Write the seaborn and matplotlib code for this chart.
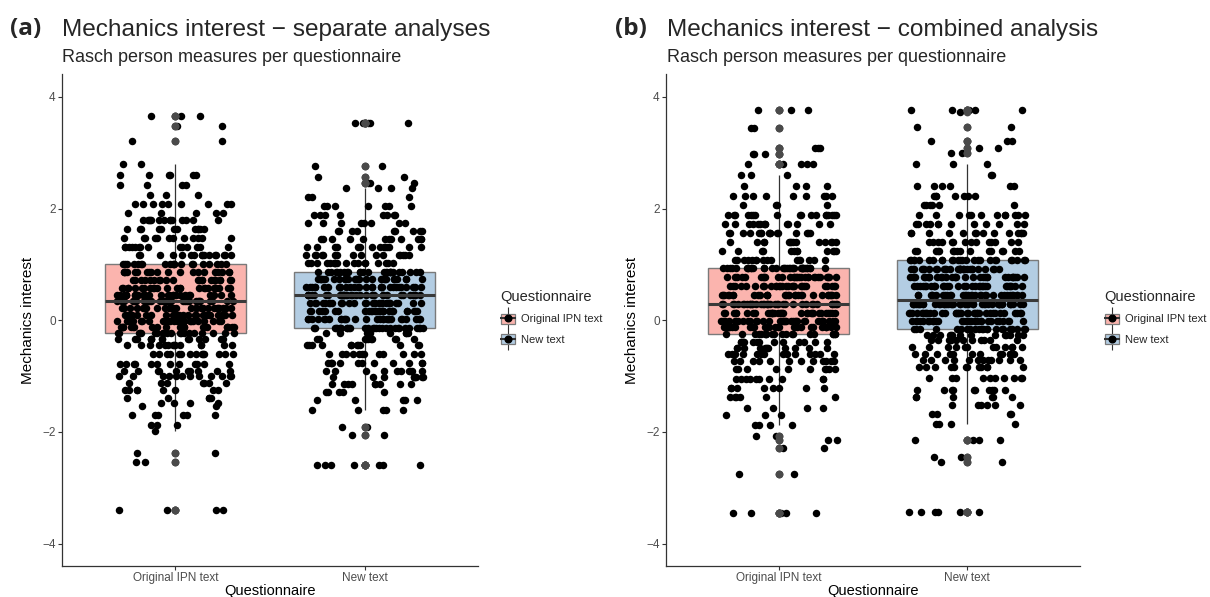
import numpy as np
import pandas as pd
import matplotlib
matplotlib.use("Agg")
import matplotlib.pyplot as plt
import seaborn as sns
from matplotlib.patches import Patch
from matplotlib.lines import Line2D

categories = ["Original IPN text", "New text"]
colors = ["#FBB4AE", "#B3CDE3"]

# ---- Panel (a): separate analyses (Rasch measure levels and number of persons) ----
a_orig_levels = [3.66, 3.48, 3.21, 2.80, 2.60, 2.42, 2.25, 2.08, 1.92, 1.80, 1.63, 1.47, 1.31, 1.16, 1.00,
                 0.86, 0.72, 0.58, 0.45, 0.34, 0.22, 0.10, -0.02, -0.12, -0.23,
                 -0.34, -0.45, -0.60, -0.78, -0.90, -1.00, -1.13, -1.24, -1.39, -1.48, -1.54, -1.70,
                 -1.88, -1.99, -2.37, -2.54, -3.39]
a_orig_counts = [3, 2, 2, 2, 6, 4, 3, 9, 5, 14, 12, 12, 14, 16, 20,
                 20, 22, 26, 28, 30, 26, 26, 26, 24, 20,
                 14, 14, 14, 12, 10, 12, 7, 8, 5, 4, 2, 6,
                 3, 1, 2, 2, 4]

a_new_levels = [3.54, 2.76, 2.56, 2.45, 2.36, 2.20, 2.04, 1.89, 1.74, 1.59, 1.45, 1.31, 1.16, 1.02,
                0.87, 0.73, 0.59, 0.45, 0.31, 0.17, 0.03, -0.13,
                -0.23, -0.33, -0.45, -0.60, -0.76, -0.90, -1.02, -1.14, -1.28, -1.42, -1.60,
                -1.91, -2.06, -2.60]
a_new_counts = [5, 2, 2, 3, 4, 3, 7, 8, 8, 9, 12, 14, 16, 18,
                26, 28, 30, 32, 28, 28, 28, 30,
                8, 10, 12, 12, 12, 10, 9, 9, 5, 5, 5,
                2, 2, 7]

# ---- Panel (b): combined analysis ----
b_orig_levels = [3.76, 3.45, 3.08, 2.98, 2.80, 2.60, 2.41, 2.23, 2.06, 1.89, 1.73, 1.56, 1.40, 1.24, 1.08,
                 0.93, 0.77, 0.61, 0.45, 0.29, 0.13, -0.02, -0.12, -0.24,
                 -0.39, -0.50, -0.60, -0.73, -0.87, -1.06, -1.22, -1.37, -1.58, -1.69, -1.87,
                 -2.07, -2.15, -2.29, -2.75, -3.45]
b_orig_counts = [3, 2, 3, 3, 5, 3, 4, 9, 4, 18, 14, 16, 14, 12, 16,
                 35, 29, 28, 30, 36, 32, 32, 28, 20,
                 14, 12, 14, 12, 10, 10, 8, 6, 4, 3, 4,
                 2, 2, 2, 2, 5]

b_new_levels = [3.76, 3.72, 3.46, 3.21, 3.08, 3.00, 2.80, 2.60, 2.41, 2.23, 2.06, 1.89, 1.73, 1.56, 1.40, 1.24,
                1.08, 0.92, 0.77, 0.61, 0.45, 0.29, 0.13, -0.02, -0.16,
                -0.27, -0.36, -0.48, -0.60, -0.72, -0.84, -1.04, -1.24, -1.37, -1.52, -1.67, -1.86,
                -2.14, -2.45, -2.54, -3.44]
b_new_counts = [5, 1, 2, 3, 2, 2, 3, 2, 6, 7, 6, 12, 12, 14, 14, 16,
                26, 31, 32, 32, 32, 44, 36, 30, 22,
                14, 12, 12, 12, 12, 12, 10, 10, 6, 6, 4, 4,
                4, 2, 2, 6]

titles = ["Mechanics interest \u2212 separate analyses", "Mechanics interest \u2212 combined analysis"]
subtitle = "Rasch person measures per questionnaire"
panel_tags = ["(a)", "(b)"]


def make_df(orig_levels, orig_counts, new_levels, new_counts):
    v1 = np.repeat(orig_levels, orig_counts)
    v2 = np.repeat(new_levels, new_counts)
    return pd.DataFrame({
        "Questionnaire": [categories[0]] * len(v1) + [categories[1]] * len(v2),
        "value": np.concatenate([v1, v2]),
    })


df_a = make_df(a_orig_levels, a_orig_counts, a_new_levels, a_new_counts)
df_b = make_df(b_orig_levels, b_orig_counts, b_new_levels, b_new_counts)

sns.set_theme(style="white")
plt.rcParams['font.family'] = ['Liberation Sans', 'DejaVu Sans']

W, H = 1210, 597
fig = plt.figure(figsize=(W / 100, H / 100), dpi=100)

ax_top_px, ax_bot_px = 74.5, 566
ax_a = fig.add_axes([62 / W, 1 - ax_bot_px / H, (478 - 62) / W, (ax_bot_px - ax_top_px) / H])
ax_b = fig.add_axes([666 / W, 1 - ax_bot_px / H, (1080 - 666) / W, (ax_bot_px - ax_top_px) / H])

np.random.seed(3)
for ax, df in [(ax_a, df_a), (ax_b, df_b)]:
    sns.boxplot(data=df, x="Questionnaire", y="value", hue="Questionnaire",
                order=categories, hue_order=categories, palette=colors, saturation=1,
                width=0.75, showcaps=False, linewidth=1.0, linecolor="#7a7a7a",
                whiskerprops=dict(color="#333333", linewidth=0.9),
                medianprops=dict(color="#3a3a3a", linewidth=2.2, zorder=5),
                flierprops=dict(marker="o", markersize=5.6, markerfacecolor="#4a4a4a",
                                markeredgecolor="none", zorder=6),
                legend=False, ax=ax)
    sns.stripplot(data=df, x="Questionnaire", y="value", order=categories,
                  color="black", jitter=0.31, size=5.4, linewidth=0, ax=ax, zorder=3)
    ax.set_xlim(-0.6, 1.6)
    ax.set_ylim(-4.4, 4.4)
    ax.set_yticks([-4, -2, 0, 2, 4])
    ax.set_yticklabels(["\u22124", "\u22122", "0", "2", "4"])
    for s in ["top", "right"]:
        ax.spines[s].set_visible(False)
    for s in ["left", "bottom"]:
        ax.spines[s].set_color("#333333")
        ax.spines[s].set_linewidth(0.9)
    ax.tick_params(axis="both", which="both", length=3, width=0.8, color="#333333",
                   labelsize=8.5, labelcolor="#4D4D4D", left=True, bottom=True, pad=1.5)
    ax.set_xlabel("Questionnaire", fontsize=10.5, color="black", labelpad=0)
    ax.set_ylabel("Mechanics interest", fontsize=11, color="black", labelpad=5)
    ax.grid(False)

# titles
for x_tag, x_title, tag, title in [(10, 62, panel_tags[0], titles[0]), (615, 667, panel_tags[1], titles[1])]:
    fig.text(x_tag / W, 1 - 29 / H, tag, fontsize=17.5, fontweight="bold",
             family=["Open Sans", "DejaVu Sans"], va="center", ha="left")
    fig.text(x_title / W, 1 - 30 / H, title, fontsize=17.6, va="center", ha="left")
    fig.text(x_title / W, 1 - 58 / H, subtitle, fontsize=13, va="center", ha="left")

# legends
def legend_handles():
    hs = []
    for c in colors:
        hs.append((Line2D([], [], marker="|", markersize=16, color="#333333", linestyle="none",
                          markeredgewidth=0.8),
                   Patch(facecolor=c, edgecolor="#7a7a7a", linewidth=0.9),
                   Line2D([], [], marker="_", markersize=12, color="#333333", linestyle="none",
                          markeredgewidth=1.5),
                   Line2D([], [], marker="o", markersize=4.8, color="black", linestyle="none")))
    return hs

for x_leg in [494, 1098]:
    leg = fig.legend(legend_handles(), categories, title="Questionnaire",
                     loc="upper left", bbox_to_anchor=(x_leg / W, 1 - 283 / H),
                     frameon=False, fontsize=8, title_fontsize=10.5, alignment="left",
                     handlelength=1.3, handleheight=1.0, labelspacing=0.9, handletextpad=0.5,
                     borderaxespad=0.2)

fig.savefig("out.png", dpi=100)
